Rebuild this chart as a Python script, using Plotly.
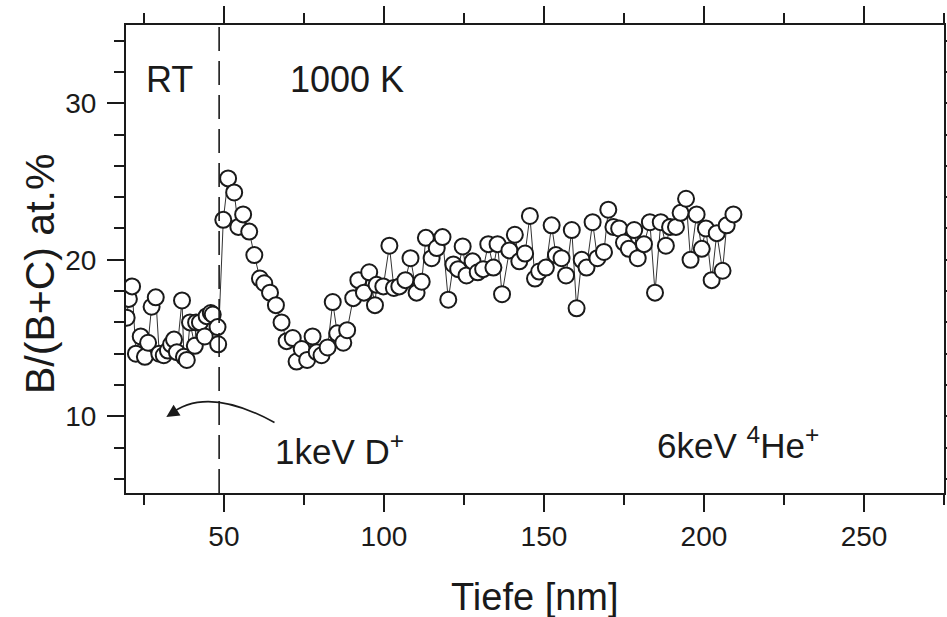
import plotly.graph_objects as go

# depth [nm] and B/(B+C) at.%
depth = [19.6, 20.3, 21.3, 22.5, 24.0, 25.3, 26.3, 27.4, 28.7, 29.8, 31.2, 32.5, 33.5, 34.4,
         35.3, 36.9, 37.5, 38.4, 39.4, 40.9, 41.3, 42.5, 44.0, 44.6, 45.9, 46.5, 48.0, 48.2,
         49.8, 51.3, 53.2, 54.5, 56.0, 57.9, 59.5, 61.25, 62.6, 64.4, 66.25, 68.0, 69.6, 71.5,
         72.7, 74.3, 76.0, 77.7, 79.0, 80.5, 82.4, 84.0, 85.4, 87.3, 88.5, 90.4, 92.0, 93.75,
         95.4, 97.2, 97.7, 99.8, 101.7, 103.1, 104.8, 106.7, 108.3, 110.2, 111.8, 113.1, 114.9,
         116.5, 118.3, 120.1, 121.7, 123.2, 124.6, 125.8, 127.7, 129.3, 131.0, 132.6, 134.2,
         135.5, 136.9, 139.2, 140.9, 142.3, 144.1, 145.6, 147.2, 148.5, 150.6, 152.4, 153.75,
         155.5, 156.9, 158.7, 160.2, 161.8, 163.3, 165.2, 166.7, 168.75, 170.1, 171.7, 173.5,
         175.0, 176.5, 178.2, 179.3, 181.25, 183.1, 184.7, 186.5, 188.1, 189.4, 191.25, 192.7,
         194.4, 195.8, 197.7, 199.3, 200.6, 202.4, 204.0, 205.8, 207.1, 209.2]
ratio = [16.3, 17.5, 18.3, 14.0, 15.1, 13.8, 14.7, 17.0, 17.6, 14.0, 13.9, 14.2, 14.6, 14.9,
         14.1, 17.4, 13.8, 13.6, 16.0, 14.5, 16.0, 16.0, 15.1, 16.4, 16.6, 16.5, 15.7, 14.6,
         22.55, 25.2, 24.3, 22.1, 22.9, 21.8, 20.3, 18.8, 18.5, 17.9, 17.1, 16.0, 14.8, 15.0,
         13.5, 14.3, 13.6, 15.1, 14.1, 13.9, 14.4, 17.3, 15.3, 14.7, 15.5, 17.55, 18.7, 17.9,
         19.2, 17.1, 18.4, 18.3, 20.9, 18.2, 18.3, 18.7, 20.1, 17.9, 18.6, 21.4, 20.1,
         20.75, 21.45, 17.45, 19.7, 19.4, 20.85, 19.0, 19.9, 19.2, 19.4, 21.0, 19.5,
         21.0, 17.8, 20.6, 21.6, 19.9, 20.4, 22.8, 18.8, 19.25, 19.5, 22.2, 20.3,
         20.1, 19.0, 21.9, 16.9, 20.0, 19.5, 22.4, 20.1, 20.5, 23.2, 22.1, 22.0,
         21.1, 20.7, 21.9, 20.1, 21.0, 22.4, 17.9, 22.4, 20.9, 22.1, 22.1, 23.0,
         23.9, 20.0, 22.9, 20.7, 22.0, 18.7, 21.7, 19.3, 22.2, 22.9]

x_ticks = [50, 100, 150, 200, 250]
y_ticks = [10, 20, 30]
x_range = [19.4, 275]
y_range = [5.1, 35]
boundary_x = 48.5

FONT = "Liberation Sans, Arial, Helvetica, sans-serif"
INK = "#1a1a1a"

fig = go.Figure()
fig.add_trace(go.Scatter(
    x=depth, y=ratio, mode="lines+markers",
    line=dict(color="#333333", width=1),
    marker=dict(symbol="circle", size=16, color="white",
                line=dict(color=INK, width=2)),
    showlegend=False, cliponaxis=True))

# dashed boundary line
fig.add_shape(type="line", xref="x", yref="paper", x0=boundary_x, x1=boundary_x,
              y0=0, y1=1, line=dict(color=INK, width=1.6, dash="24px,10px"), layer="above")

# curved arrow
fig.add_shape(type="path", xref="x", yref="y",
              path="M 65.8,9.6 Q 44.5,12.0 33.0,10.1",
              line=dict(color=INK, width=1.6))
fig.add_annotation(x=32.0, y=9.95, ax=35.0, ay=10.35, xref="x", yref="y",
                   axref="x", ayref="y", text="", showarrow=True,
                   arrowhead=2, arrowsize=1.6, arrowwidth=1.6, arrowcolor=INK)

big_font = dict(family=FONT, size=36, color=INK)
ann_font = dict(family=FONT, size=35, color=INK)
fig.add_annotation(x=33.0, y=31.5, xref="x", yref="y", text="RT", showarrow=False,
                   font=big_font)
fig.add_annotation(x=88.4, y=31.5, xref="x", yref="y", text="1000 K", showarrow=False,
                   font=big_font)
fig.add_annotation(x=86.0, y=7.9, xref="x", yref="y", text="1keV D<sup>+</sup>",
                   showarrow=False, font=ann_font)
fig.add_annotation(x=210.6, y=8.3, xref="x", yref="y",
                   text="6keV <sup>4</sup>He<sup>+</sup>", showarrow=False,
                   font=ann_font)

# axis titles
fig.add_annotation(x=0, xshift=-86, y=0.468, xref="paper", yref="paper",
                   xanchor="center", yanchor="middle",
                   text="B/(B+C) at.%", textangle=-90, showarrow=False,
                   font=dict(family=FONT, size=41, color=INK))
fig.add_annotation(x=0.5, y=0, yshift=-104, xref="paper", yref="paper",
                   text="Tiefe [nm]", showarrow=False, xanchor="center", yanchor="middle",
                   font=dict(family=FONT, size=38, color=INK))

axis_common = dict(showgrid=False, zeroline=False, showline=True, linecolor=INK,
                   linewidth=2, mirror="allticks", ticks="outside", ticklen=17,
                   tickwidth=2, tickcolor=INK, automargin=False,
                   tickfont=dict(family=FONT, size=28, color=INK))

fig.update_xaxes(range=x_range, tickvals=x_ticks, ticktext=[str(v) for v in x_ticks],
                 minor=dict(dtick=25, tick0=0, ticks="outside", ticklen=10, tickwidth=2,
                            tickcolor=INK),
                 **axis_common)
fig.update_yaxes(range=y_range, tickvals=y_ticks, ticktext=[str(v) for v in y_ticks],
                 minor=dict(dtick=2, tick0=0, ticks="outside", ticklen=10, tickwidth=2,
                            tickcolor=INK),
                 ticklabelstandoff=5,
                 **axis_common)

fig.update_layout(width=947, height=617, margin=dict(l=126, r=3, t=25, b=124),
                  plot_bgcolor="white", paper_bgcolor="white",
                  font=dict(family=FONT, color=INK))

fig.write_html("out.html")
